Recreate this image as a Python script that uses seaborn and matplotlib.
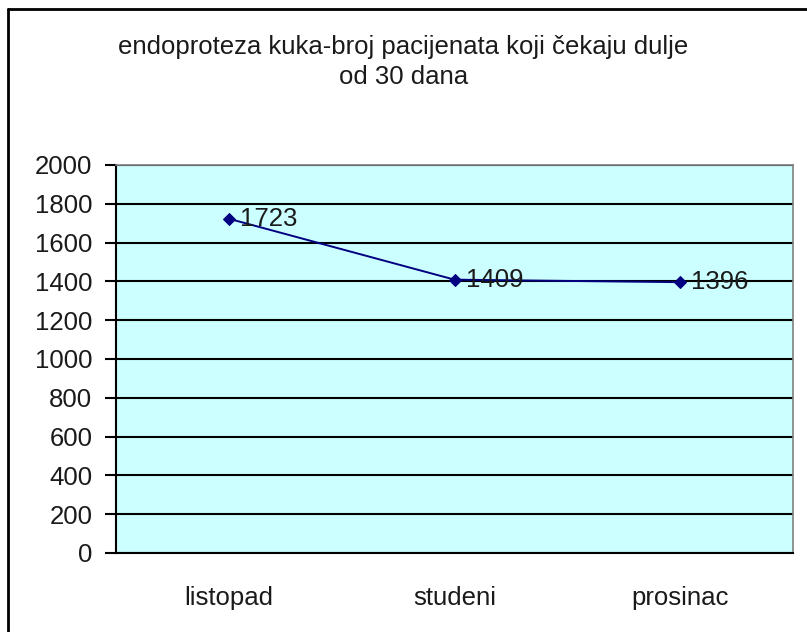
import matplotlib
matplotlib.use("Agg")
import matplotlib.pyplot as plt
import seaborn as sns
import pandas as pd
from matplotlib.lines import Line2D

months = ["listopad", "studeni", "prosinac"]
patients = [1723, 1409, 1396]
yticks = [0, 200, 400, 600, 800, 1000, 1200, 1400, 1600, 1800, 2000]
title = "endoproteza kuka-broj pacijenata koji čekaju dulje\nod 30 dana"

sns.set_style("white")
plt.rcParams['font.family'] = ['Liberation Sans', 'DejaVu Sans']

W, H = 807, 632
fig = plt.figure(figsize=(W / 100, H / 100), dpi=100)
fig.patch.set_facecolor("white")

ax = fig.add_axes([116 / W, 1 - 553 / H, (793 - 116) / W, (553 - 165) / H])
ax.set_facecolor("#CCFFFF")

FS = 18.5
TC = "#1a1a1a"

df = pd.DataFrame({"month": months, "patients": patients})
df["x"] = range(len(months))
sns.lineplot(data=df, x="x", y="patients", ax=ax, color="#000080", lw=1.4,
             marker="D", markersize=6, markeredgecolor="#000080", zorder=5)

for xi, v in zip(df["x"], patients):
    ax.annotate(str(v), (xi, v), xytext=(8, 0), textcoords="offset points",
                ha="left", va="center", fontsize=FS, color=TC, zorder=6)

ax.set_xlim(-0.5, len(months) - 0.5)
ax.set_ylim(0, 2000)
ax.set_yticks(yticks)
ax.set_yticklabels([str(t) for t in yticks], fontsize=FS, color=TC)
ax.yaxis.grid(True, color="black", lw=1.5)
ax.set_axisbelow(True)

ax.set_xticks(range(len(months)))
ax.set_xticklabels(months, fontsize=FS, color=TC)
ax.set_xticks([i - 0.5 for i in range(len(months) + 1)], minor=True)
ax.tick_params(axis="x", which="major", length=0, pad=24)
ax.tick_params(axis="x", which="minor", length=7, width=1.5, color="black", direction="out")
ax.tick_params(axis="y", length=8, width=1.5, color="black", direction="out", pad=9, left=True)
ax.set_xlabel("")
ax.set_ylabel("")

for s in ["left", "bottom"]:
    ax.spines[s].set_color("black")
    ax.spines[s].set_linewidth(1.5)
for s in ["top", "right"]:
    ax.spines[s].set_color("#808080")
    ax.spines[s].set_linewidth(1.2)

fig.text(0.5, 1 - 62 / H, title, ha="center", va="center", fontsize=FS,
         color=TC, linespacing=1.3)

fig.add_artist(Line2D([8 / W, 8 / W], [0, 1 - 9 / H], color="black", lw=2,
                      transform=fig.transFigure))
fig.add_artist(Line2D([8 / W, 1], [1 - 9 / H, 1 - 9 / H], color="black", lw=2,
                      transform=fig.transFigure))

fig.savefig("out.png", dpi=100)
